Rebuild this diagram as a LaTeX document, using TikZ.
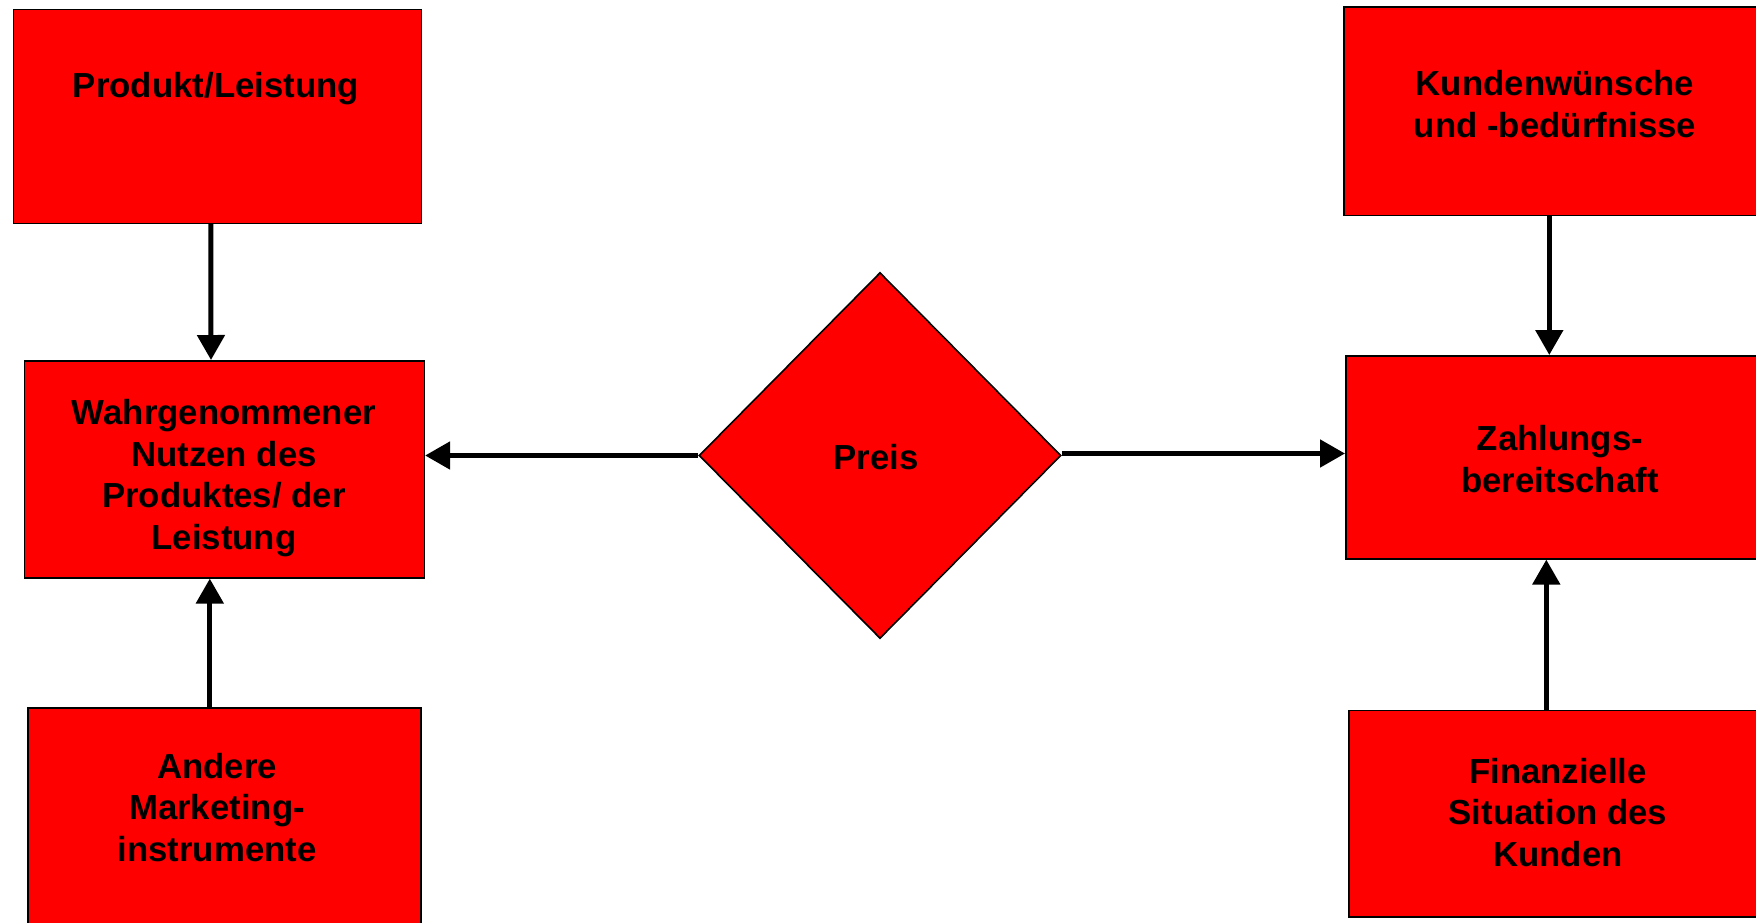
\documentclass[tikz,border=0pt]{standalone}
\usepackage{fontspec}
\setmainfont{Liberation Sans}
\usetikzlibrary{shapes.geometric,arrows.meta}

\tikzset{
  box/.style={rectangle, draw=black, fill=red, line width=1.6pt, inner sep=0pt, anchor=north west},
  rhomb/.style={diamond, draw=black, fill=red, line width=1.6pt, inner sep=0pt,
                minimum width=362pt, minimum height=366pt},
  lbl/.style={align=center, inner sep=0pt,
              font=\fontsize{34.8}{41.7}\selectfont\bfseries},
  arr/.style={line width=5pt, -{Triangle[length=25pt,width=27pt]}}
}

\begin{document}
\begin{tikzpicture}[x=1pt,y=-1pt]
  \useasboundingbox (0,0) rectangle (1756,922);
  \clip (0,0) rectangle (1756,922);
  \fill[white] (0,0) rectangle (1756,922);

  % left column
  \node[box, minimum width=408pt, minimum height=214pt] (prod) at (12.5,8.5) {};
  \node[box, minimum width=400pt, minimum height=217pt] (nutz) at (23.5,360) {};
  \node[box, minimum width=393pt, minimum height=240pt] (mark) at (27,707) {};

  % right column (boxes run past the right edge)
  \node[box, minimum width=430pt, minimum height=208.5pt] (wuen) at (1343,6) {};
  \node[box, minimum width=428pt, minimum height=203pt] (zahl) at (1345,355) {};
  \node[box, minimum width=425pt, minimum height=206.5pt] (fin) at (1348,709.5) {};

  % centre
  \node[rhomb] (preis) at (880,455.5) {};

  % labels
  \node[lbl] at (216,89) {Produkt/Leistung};
  \node[lbl] at (224,478) {Wahrgenommener\\Nutzen des\\Produktes/ der\\Leistung};
  \node[lbl] at (217,807.5) {Andere\\Marketing-\\instrumente};
  \node[lbl] at (1555,104) {Kundenwünsche\\und -bedürfnisse};
  \node[lbl] at (1560,459) {Zahlungs-\\bereitschaft};
  \node[lbl] at (1558,812.5) {Finanzielle\\Situation des\\Kunden};
  \node[lbl] at (876,457.5) {Preis};

  % connectors
  \coordinate (pe) at ([yshift=2pt]preis.east);
  \draw[arr] ([xshift=-6.5pt]prod.south) -- ([xshift=-13.3pt]nutz.north);
  \draw[arr] ([xshift=-14.5pt]mark.north) -- ([xshift=-14.5pt]nutz.south);
  \draw[arr] ([xshift=-9.5pt]wuen.south) -- ([xshift=-10.5pt]zahl.north);
  \draw[arr] ([xshift=-15pt]fin.north) -- ([xshift=-13.5pt]zahl.south);
  \draw[arr] (preis.west) -- (nutz.east |- preis.west);
  \draw[arr] (pe) -- (zahl.west |- pe);
\end{tikzpicture}
\end{document}
